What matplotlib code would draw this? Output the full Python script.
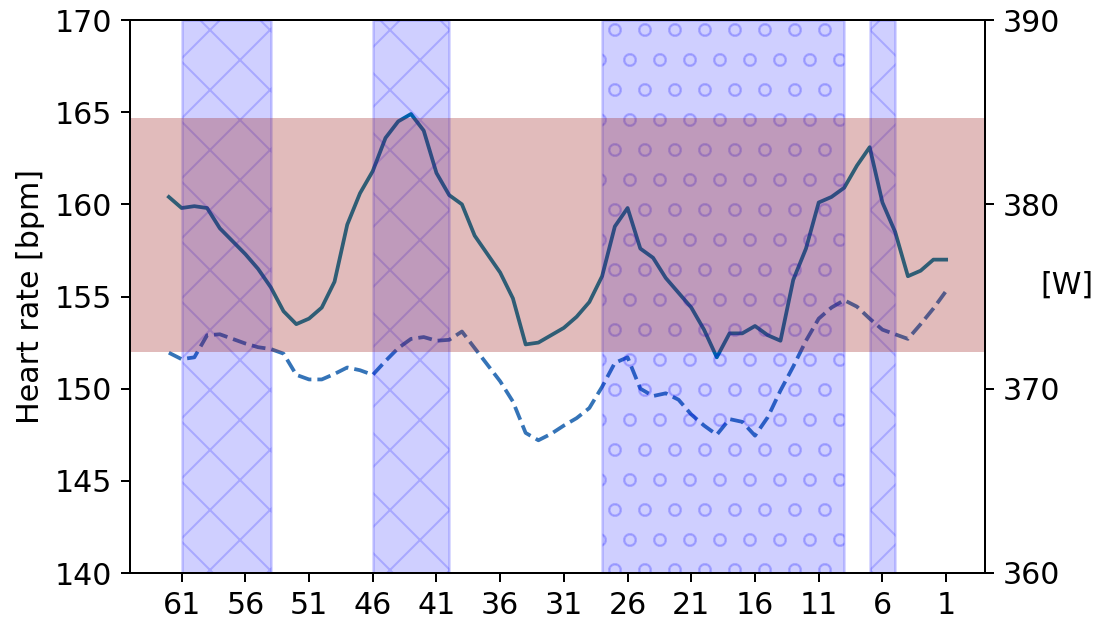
# hr_power_zones.py
# 心拍数とパワーの推移、区間ハッチと心拍ゾーン帯を描画

import numpy as np
import matplotlib.pyplot as plt

# ===== データ =====
# 残り距離 (左から 62 -> 1)
dist = np.arange(62, 0, -1)

# 心拍数 [bpm] (左軸, 実線)
heart_rate = [
    160.4, 159.8, 159.9, 159.8, 158.7, 158.0, 157.3, 156.5, 155.5, 154.2,
    153.5, 153.8, 154.4, 155.8, 158.9, 160.6, 161.8, 163.6, 164.5, 164.9,
    164.0, 161.7, 160.5, 160.0, 158.3, 157.3, 156.3, 154.9, 152.4, 152.5,
    152.9, 153.3, 153.9, 154.7, 156.1, 158.8, 159.8, 157.6, 157.1, 156.0,
    155.2, 154.4, 153.2, 151.7, 153.0, 153.0, 153.4, 152.9, 152.6, 155.9,
    157.6, 160.1, 160.4, 160.9, 162.1, 163.1, 160.1, 158.5, 156.1, 156.4,
    157.0, 157.0,
]

# パワー [W] (右軸, 破線)
power = [
    371.95, 371.6, 371.7, 372.9, 372.95, 372.7, 372.45, 372.25, 372.15, 371.9,
    370.75, 370.5, 370.5, 370.8, 371.15, 371.0, 370.75, 371.5, 372.2, 372.7,
    372.8, 372.6, 372.65, 373.1, 372.2, 371.3, 370.4, 369.3, 367.6, 367.2,
    367.55, 368.0, 368.4, 368.95, 370.1, 371.4, 371.7, 370.0, 369.6, 369.75,
    369.4, 368.6, 368.0, 367.5, 368.35, 368.2, 367.45, 368.45, 369.9, 371.2,
    372.6, 373.8, 374.4, 374.8, 374.45, 373.8, 373.2, 372.95, 372.7, 373.5,
    374.35, 375.3,
]

# 区間 (開始, 終了) とハッチ
span_ranges = [(61, 54), (46, 40), (28, 9), (7, 5)]
span_hatches = ["x", "x", "o", "x"]

# 心拍ゾーン [bpm]
hr_zone = (152, 164.7)

x_ticks = list(range(61, 0, -5))
hr_ticks = [140, 145, 150, 155, 160, 165, 170]
w_ticks = [360, 370, 380, 390]
# =================

plt.rcParams["font.size"] = 12
plt.rcParams["hatch.linewidth"] = 0.8

DPI = 180  # ハッチ間隔が参照に合う解像度
fig = plt.figure(figsize=(1099 / DPI, 620 / DPI), dpi=DPI)
ax1 = fig.add_axes([130 / 1099, 1 - 573 / 620, 855 / 1099, 553 / 620])
ax2 = ax1.twinx()

# 左軸を前面に (帯が破線の上に重なるように)
ax1.set_zorder(ax2.get_zorder() + 1)
ax1.patch.set_visible(False)

ax2.plot(dist, power, "--", color="#3574b8", lw=1.5)
ax1.plot(dist, heart_rate, "-", color="#00789a", lw=1.5, zorder=1)

for (a, b), h in zip(span_ranges, span_hatches):
    ax1.axvspan(a, b, color="blue", alpha=0.19, hatch=h, zorder=1.5)
ax1.axhspan(*hr_zone, color="#9c2020", alpha=0.3, lw=0, zorder=1.6)

ax1.set_xticks(x_ticks)
ax1.invert_xaxis()
ax1.set_ylim(140, 170)
ax1.set_yticks(hr_ticks)
ax2.set_ylim(360, 390)
ax2.set_yticks(w_ticks)

ax1.set_ylabel("Heart rate [bpm]")
ax2.set_ylabel("[W]", rotation=0, va="center", ha="center")
ax2.yaxis.set_label_coords(1.096, 0.52)

fig.savefig("out.png", dpi=DPI)
